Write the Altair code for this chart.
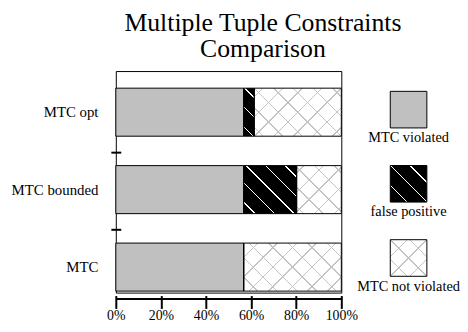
import math
import altair as alt
import pandas as pd

# ---------------- data ----------------
categories = ["MTC opt", "MTC bounded", "MTC"]
segments = ["MTC violated", "false positive", "MTC not violated"]
violated = [56.7, 56.7, 56.7]
false_positive = [4.7, 23.5, 0.0]
not_violated = [38.6, 19.8, 43.3]

title_lines = ["Multiple Tuple Constraints", "Comparison"]
x_ticks = [0, 20, 40, 60, 80, 100]

rows = []
for i, c in enumerate(categories):
    vals = [violated[i], false_positive[i], not_violated[i]]
    for j, (s, v) in enumerate(zip(segments, vals)):
        rows.append({"category": c, "segment": s, "order": j, "value": v})
df = pd.DataFrame(rows)
legend_df = pd.DataFrame({"segment": segments})

# ---------------- style ----------------
W, H = 228, 224
P_IN, P_OUT, ALIGN = 0.38, 0.12, 0.92
STEP = H / (len(categories) - P_IN + 2 * P_OUT)
BAND = STEP * (1 - P_IN)
GRAY = "#c0c0c0"
HATCH_GRAY = "#c4c4c4"
SERIF = "Liberation Serif"
CLEAR = "rgba(255,255,255,0)"
BOX = 37
FILLS = {"MTC violated": GRAY, "false positive": "black", "MTC not violated": "white"}
PATTERNS = {"MTC violated": [], "false positive": [("\\", "white", 1.0)],
            "MTC not violated": [("/", HATCH_GRAY, 1.1), ("\\", HATCH_GRAY, 1.1)]}


def stripes(w, h, direction, color, lw, spacing=14.0):
    """Linear gradient (bbox units) that draws 45-degree stripes in pixel space."""
    r = w / h
    k = (r + 1) / (r * r + 1)
    if direction == "/":
        x1, y1, x2, y2 = 0, 0, k * r, k
    else:
        x1, y1, x2, y2 = 0, 1, k * r, 1 - k
    L = (w + h) / math.sqrt(2)
    p = spacing / L
    half = lw / (2 * L)
    stops = []
    n = int(0.5 / p) + 2
    for i in range(-n, n + 1):
        c = 0.5 + i * p
        a, b = max(0.0, c - half), min(1.0, c + half)
        if a >= b:
            continue
        stops += [{"offset": a, "color": CLEAR}, {"offset": a, "color": color},
                  {"offset": b, "color": color}, {"offset": b, "color": CLEAR}]
    return {"gradient": "linear", "x1": x1, "y1": y1, "x2": x2, "y2": y2, "stops": stops}


# ---------------- main chart ----------------
xscale = alt.Scale(domain=[0, 100], nice=False)
yscale = alt.Scale(domain=categories, paddingInner=P_IN, paddingOuter=P_OUT, align=ALIGN)

base = alt.Chart(df).transform_stack(
    stack="value", groupby=["category"], as_=["x0", "x1"],
    sort=[alt.SortField("order", order="ascending")],
)

fill_layer = base.mark_bar(strokeWidth=0).encode(
    x=alt.X("x0:Q", scale=xscale, axis=alt.Axis(
        orient="bottom", values=x_ticks, labelExpr="datum.value + '%'", tickSize=13,
        tickWidth=2, tickColor="black", domain=False, offset=3, labelFont=SERIF,
        labelFontSize=14, labelColor="black", labelPadding=0, labelOverlap=False,
        labelFlush=False, grid=False, title=None)),
    x2="x1:Q",
    y=alt.Y("category:N", scale=yscale, sort=categories, axis=alt.Axis(
        orient="left", ticks=False, domain=False, labelFont=SERIF, labelFontSize=15,
        labelColor="black", labelPadding=18, grid=False, title=None, bandPosition=0.5)),
    color=alt.Color("segment:N", scale=alt.Scale(domain=segments, range=[FILLS[s] for s in segments]),
                    legend=None),
)

layers = [fill_layer]
for i, c in enumerate(categories):
    vals = {"MTC violated": violated[i], "false positive": false_positive[i],
            "MTC not violated": not_violated[i]}
    for s in segments:
        w = vals[s] / 100 * W
        if w <= 0:
            continue
        for direction, col, lw in PATTERNS[s]:
            layers.append(
                base.transform_filter((alt.datum.category == c) & (alt.datum.segment == s))
                .mark_bar(fill=stripes(w, BAND, direction, col, lw), strokeWidth=0)
                .encode(x=alt.X("x0:Q", scale=xscale, axis=None), x2="x1:Q",
                        y=alt.Y("category:N", scale=yscale, sort=categories, axis=None))
            )

outline = base.mark_bar(fillOpacity=0, stroke="black", strokeWidth=1).encode(
    x=alt.X("x0:Q", scale=xscale, axis=alt.Axis(
        orient="bottom", domain=True, domainWidth=2, domainColor="black", ticks=False,
        labels=False, offset=6, grid=False, title=None)),
    x2="x1:Q",
    y=alt.Y("category:N", scale=yscale, sort=categories, axis=alt.Axis(
        orient="left", values=categories[1:], labels=False, domain=False, ticks=True,
        tickSize=10, tickWidth=2, tickColor="black", bandPosition=0, tickOffset=-14,
        offset=-5, grid=False, title=None)),
)
layers.append(outline)

main = alt.layer(*layers).resolve_axis(x="independent", y="independent").properties(
    width=W, height=H, view=alt.ViewBackground(stroke="black", strokeWidth=1)
)

# ---------------- legend chart ----------------
LX = 68
lscale = alt.Scale(type="point", domain=segments, range=[39, 189], padding=0)
lbase = alt.Chart(legend_df).encode(
    x=alt.value(LX),
    y=alt.Y("segment:N", scale=lscale, sort=segments, axis=None),
)
llayers = [lbase.mark_square(size=BOX * BOX, opacity=1, strokeWidth=0).encode(
    color=alt.Color("segment:N", scale=alt.Scale(domain=segments, range=[FILLS[s] for s in segments]),
                    legend=None))]
for s in segments:
    for direction, col, lw in PATTERNS[s]:
        llayers.append(
            lbase.transform_filter(alt.datum.segment == s)
            .mark_square(size=BOX * BOX, opacity=1, fill=stripes(BOX, BOX, direction, col, lw),
                         strokeWidth=0)
        )
llayers.append(lbase.mark_square(size=BOX * BOX, opacity=1, fillOpacity=0, filled=True,
                                 stroke="black", strokeWidth=1))
llayers.append(lbase.mark_text(dy=29, font=SERIF, fontSize=14.5, color="black",
                               baseline="middle", align="center").encode(text="segment:N"))
legend = alt.layer(*llayers).properties(
    width=114, height=H, view=alt.ViewBackground(strokeWidth=0)
)

chart = alt.hconcat(main, legend, spacing=0, bounds="flush").properties(
    title=alt.TitleParams(text=title_lines, font=SERIF, fontSize=26, fontWeight="normal",
                          lineHeight=26, anchor="middle", offset=9, dx=28, color="black"),
    padding={"left": 2, "top": 0, "right": 0, "bottom": 0},
).configure_view(strokeWidth=0)

chart.save("out.html", embed_options={"renderer": "svg", "actions": False})
